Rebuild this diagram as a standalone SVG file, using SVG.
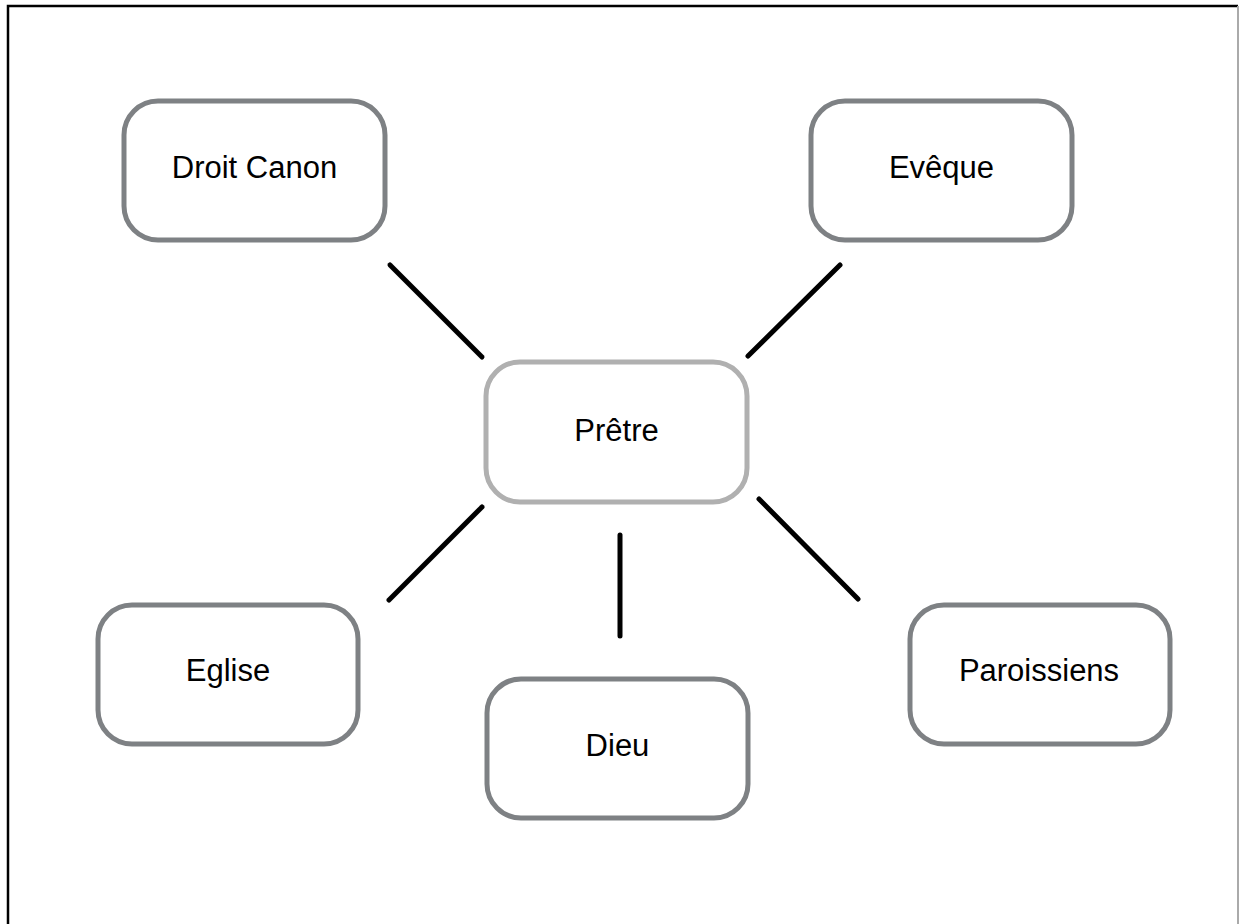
<svg xmlns="http://www.w3.org/2000/svg" width="1239" height="924" viewBox="0 0 1239 924">
<style>
.node rect{fill:#fff;stroke:#7e8184;stroke-width:5}
.center rect{stroke:#b0b0b0}
.node text{font-family:"Liberation Sans",Arial,sans-serif;font-size:31px;fill:#000;text-anchor:middle;dominant-baseline:central}
.conn line{stroke:#000;stroke-width:5;stroke-linecap:round}
</style>
<rect x="0" y="0" width="1239" height="924" fill="#fff"/>
<path d="M8 924 V6 H1238" fill="none" stroke="#000" stroke-width="2.5"/>
<line x1="1238" y1="6" x2="1238" y2="924" stroke="#aaa" stroke-width="2"/>
<g class="conn">
<line x1="390" y1="265" x2="482" y2="357"/>
<line x1="840" y1="265" x2="748" y2="356"/>
<line x1="482" y1="507" x2="389" y2="600"/>
<line x1="620" y1="535" x2="620" y2="636"/>
<line x1="759" y1="499" x2="858" y2="599"/>
</g>
<g id="droit-canon" class="node"><rect x="124" y="101" width="261" height="139" rx="34"/><text x="254.5" y="167">Droit Canon</text></g>
<g id="eveque" class="node"><rect x="811" y="101" width="261" height="139" rx="34"/><text x="941.5" y="167">Evêque</text></g>
<g id="pretre" class="node center"><rect x="486" y="362" width="261" height="140" rx="34"/><text x="616.5" y="430">Prêtre</text></g>
<g id="eglise" class="node"><rect x="98" y="605" width="260" height="139" rx="34"/><text x="228" y="670">Eglise</text></g>
<g id="dieu" class="node"><rect x="487" y="679" width="261" height="139" rx="34"/><text x="617.5" y="745">Dieu</text></g>
<g id="paroissiens" class="node"><rect x="910" y="605" width="260" height="139" rx="34"/><text x="1039" y="670">Paroissiens</text></g>
</svg>
